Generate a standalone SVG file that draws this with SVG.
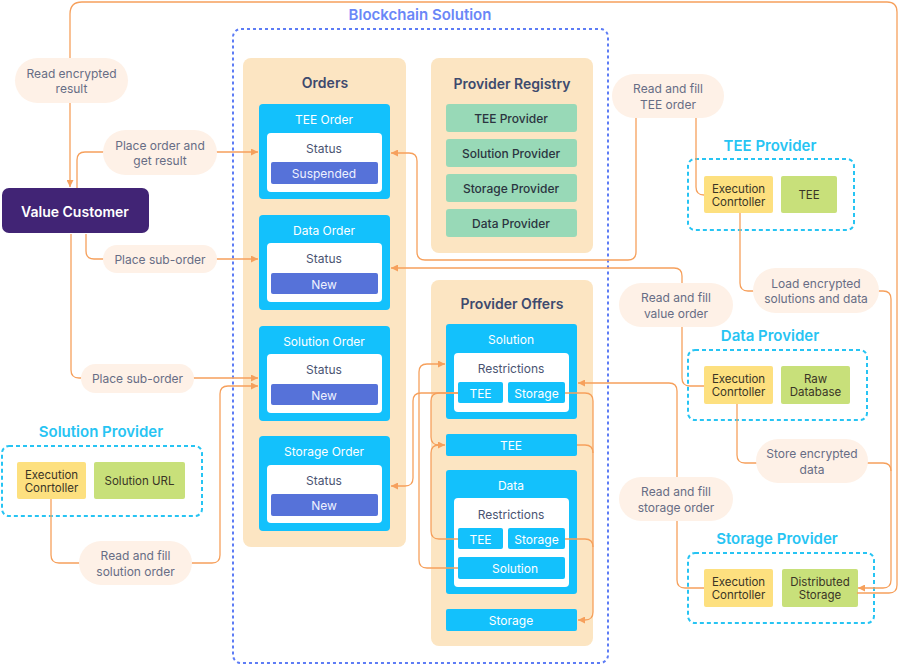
<svg xmlns="http://www.w3.org/2000/svg" width="899" height="665" viewBox="0 0 899 665">
<style>
text{font-family:Inter,"Noto Sans","Liberation Sans",sans-serif;text-anchor:middle;dominant-baseline:central}
.panel{fill:#fce5c2}
.ptitle{font-size:14px;font-weight:600;fill:#3e4a6e}
.obox{fill:#13c1fc}
.otitle{font-size:12px;fill:#ffffff}
.white{fill:#ffffff}
.status{font-size:12px;fill:#4a5472}
.bar{fill:#5672d9}
.bartx{font-size:12px;fill:#eef1ff}
.reg{fill:#98d9b7}
.regtx{font-size:12px;font-weight:500;fill:#2b3440}
.sub{fill:#13c1fc}
.subtx{font-size:12px;fill:#ffffff}
.rtx{font-size:12px;fill:#4a5472}
.ptl{font-size:15px;font-weight:600;fill:#27c4f3}
.pbox{fill:none;stroke:#27c4f3;stroke-width:2;stroke-dasharray:4 3}
.exec{fill:#fde07f}
.res{fill:#c8e07a}
.ntx{font-size:11.5px;fill:#3a3526}
.pill{fill:#fef1e7}
.ltx{font-size:12px;fill:#676d85}
.con{fill:none;stroke:#f6a05c;stroke-width:1.3}
</style>
<defs>
<marker id="arr" viewBox="0 0 8 8" refX="8" refY="4" markerWidth="7" markerHeight="7" markerUnits="userSpaceOnUse" orient="auto">
<path d="M0,0 L8,4 L0,8 z" fill="#f6a05c"/>
</marker>
</defs>

<g id="blockchain">
<rect x="233" y="29" width="375" height="634" rx="8" fill="none" stroke="#5d7cf5" stroke-width="2" stroke-dasharray="3 3"/>
<text x="420" y="14" style="font-size:15px;font-weight:600;fill:#6a87f7">Blockchain Solution</text>
</g>

<g id="orders">
<rect class="panel" x="243" y="58" width="163" height="489" rx="8"/>
<text class="ptitle" x="325" y="82">Orders</text>
</g>
<g id="tee-order">
<rect class="obox" x="259" y="104" width="131" height="95" rx="4"/>
<text class="otitle" x="324" y="119">TEE Order</text>
<rect class="white" x="267" y="133" width="115" height="59" rx="4"/>
<text class="status" x="324" y="148">Status</text>
<rect class="bar" x="271" y="162" width="107" height="22" rx="2"/>
<text class="bartx" x="324" y="173">Suspended</text>
</g>
<g id="data-order">
<rect class="obox" x="259" y="215" width="131" height="95" rx="4"/>
<text class="otitle" x="324" y="230">Data Order</text>
<rect class="white" x="267" y="243" width="115" height="59" rx="4"/>
<text class="status" x="324" y="258">Status</text>
<rect class="bar" x="271" y="273" width="107" height="21" rx="2"/>
<text class="bartx" x="324" y="284">New</text>
</g>
<g id="solution-order">
<rect class="obox" x="259" y="326" width="131" height="95" rx="4"/>
<text class="otitle" x="324" y="341">Solution Order</text>
<rect class="white" x="267" y="354" width="115" height="59" rx="4"/>
<text class="status" x="324" y="369">Status</text>
<rect class="bar" x="271" y="384" width="107" height="21" rx="2"/>
<text class="bartx" x="324" y="395">New</text>
</g>
<g id="storage-order">
<rect class="obox" x="259" y="436" width="131" height="95" rx="4"/>
<text class="otitle" x="324" y="451">Storage Order</text>
<rect class="white" x="267" y="465" width="115" height="58" rx="4"/>
<text class="status" x="324" y="480">Status</text>
<rect class="bar" x="271" y="494" width="107" height="22" rx="2"/>
<text class="bartx" x="324" y="505">New</text>
</g>

<g id="provider-registry">
<rect class="panel" x="431" y="58" width="162" height="195" rx="8"/>
<text class="ptitle" x="512" y="83">Provider Registry</text>
<rect class="reg" x="446" y="104" width="131" height="28" rx="3"/>
<text class="regtx" x="511" y="118">TEE Provider</text>
<rect class="reg" x="446" y="139" width="131" height="28" rx="3"/>
<text class="regtx" x="511" y="153">Solution Provider</text>
<rect class="reg" x="446" y="174" width="131" height="28" rx="3"/>
<text class="regtx" x="511" y="188">Storage Provider</text>
<rect class="reg" x="446" y="209" width="131" height="28" rx="3"/>
<text class="regtx" x="511" y="223">Data Provider</text>
</g>

<g id="provider-offers">
<rect class="panel" x="431" y="280" width="162" height="366" rx="8"/>
<text class="ptitle" x="512" y="303">Provider Offers</text>
</g>
<g id="offer-solution">
<rect class="sub" x="446" y="324" width="131" height="95" rx="3"/>
<text class="subtx" x="511" y="339">Solution</text>
<rect class="white" x="454" y="353" width="115" height="59" rx="4"/>
<text class="rtx" x="511" y="368">Restrictions</text>
<rect class="sub" x="458" y="382" width="45" height="21" rx="2"/>
<text class="subtx" x="480.5" y="393">TEE</text>
<rect class="sub" x="508" y="382" width="57" height="21" rx="2"/>
<text class="subtx" x="536.5" y="393">Storage</text>
</g>
<g id="offer-tee">
<rect class="sub" x="446" y="434" width="131" height="22" rx="2"/>
<text class="subtx" x="511" y="445">TEE</text>
</g>
<g id="offer-data">
<rect class="sub" x="446" y="470" width="131" height="124" rx="3"/>
<text class="subtx" x="511" y="485">Data</text>
<rect class="white" x="454" y="498" width="115" height="89" rx="4"/>
<text class="rtx" x="511" y="514">Restrictions</text>
<rect class="sub" x="458" y="528" width="45" height="21" rx="2"/>
<text class="subtx" x="480.5" y="539">TEE</text>
<rect class="sub" x="508" y="528" width="57" height="21" rx="2"/>
<text class="subtx" x="536.5" y="539">Storage</text>
<rect class="sub" x="458" y="557" width="107" height="22" rx="2"/>
<text class="subtx" x="515" y="568">Solution</text>
</g>
<g id="offer-storage">
<rect class="sub" x="446" y="609" width="131" height="22" rx="2"/>
<text class="subtx" x="511" y="620">Storage</text>
</g>

<g id="value-customer">
<rect x="2" y="188" width="147" height="45" rx="7" fill="#412475"/>
<text x="75" y="211" style="font-size:14px;font-weight:600;fill:#ffffff">Value Customer</text>
</g>

<g id="solution-provider">
<text class="ptl" x="101" y="431">Solution Provider</text>
<rect class="pbox" x="2" y="446" width="200" height="70" rx="7"/>
<rect class="exec" x="17" y="462" width="69" height="37" rx="2"/>
<text class="ntx" x="51.5" y="474.5">Execution</text>
<text class="ntx" x="51.5" y="487.5">Conrtoller</text>
<rect class="res" x="94" y="462" width="91" height="37" rx="2"/>
<text class="ntx" x="139.5" y="481">Solution URL</text>
</g>

<g id="tee-provider">
<text class="ptl" x="770" y="145">TEE Provider</text>
<rect class="pbox" x="688" y="159" width="166" height="71" rx="7"/>
<rect class="exec" x="704" y="176" width="69" height="37" rx="2"/>
<text class="ntx" x="738.5" y="188.5">Execution</text>
<text class="ntx" x="738.5" y="201.5">Conrtoller</text>
<rect class="res" x="781" y="176" width="56" height="37" rx="2"/>
<text class="ntx" x="809" y="195">TEE</text>
</g>

<g id="data-provider">
<text class="ptl" x="770" y="335">Data Provider</text>
<rect class="pbox" x="688" y="350" width="179" height="70" rx="7"/>
<rect class="exec" x="704" y="366" width="69" height="38" rx="2"/>
<text class="ntx" x="738.5" y="379">Execution</text>
<text class="ntx" x="738.5" y="392">Conrtoller</text>
<rect class="res" x="781" y="366" width="69" height="38" rx="2"/>
<text class="ntx" x="815.5" y="379">Raw</text>
<text class="ntx" x="815.5" y="392">Database</text>
</g>

<g id="storage-provider">
<text class="ptl" x="777" y="538">Storage Provider</text>
<rect class="pbox" x="688" y="553" width="186" height="70" rx="7"/>
<rect class="exec" x="704" y="569" width="69" height="38" rx="2"/>
<text class="ntx" x="738.5" y="582">Execution</text>
<text class="ntx" x="738.5" y="595">Conrtoller</text>
<rect class="res" x="782" y="569" width="76" height="38" rx="2"/>
<text class="ntx" x="820" y="582">Distributed</text>
<text class="ntx" x="820" y="595">Storage</text>
</g>

<g id="connectors">
<path class="con" marker-end="url(#arr)" d="M857,593 H889 Q897,593 897,585 V12 Q897,2 887,2 H82 Q70,2 70,14 V187"/>
<path class="con" marker-end="url(#arr)" d="M77,188 V160 Q77,152 85,152 H258"/>
<path class="con" marker-end="url(#arr)" d="M86,234 V251 Q86,259 94,259 H258"/>
<path class="con" marker-end="url(#arr)" d="M71,234 V370 Q71,378 79,378 H258"/>
<path class="con" marker-end="url(#arr)" d="M51,499 V555 Q51,563 59,563 H212 Q220,563 220,555 V394 Q220,386 228,386 H258"/>
<path class="con" marker-end="url(#arr)" d="M704,195 Q696,195 696,187 V100 M636,100 V252 Q636,260 628,260 H425 Q417,260 417,252 V161 Q417,153 409,153 H391"/>
<path class="con" marker-end="url(#arr)" d="M704,386 H690 Q682,386 682,378 V310 M682,300 V276 Q682,268 674,268 H391"/>
<path class="con" marker-end="url(#arr)" d="M704,588 H685 Q677,588 677,580 V500 M677,495 V391 Q677,383 669,383 H578"/>
<path class="con" marker-end="url(#arr)" d="M740,213 V283 Q740,291 748,291 H760 M870,291 H883 Q891,291 891,299 V580 Q891,588 883,588 H858"/>
<path class="con" d="M737,404 V455 Q737,463 745,463 H765 M860,463 H883 Q891,463 891,471"/>
<path class="con" marker-end="url(#arr)" d="M458,568 H427 Q419,568 419,560 V372 Q419,364 427,364 H445"/>
<path class="con" marker-end="url(#arr)" d="M458,393 H421 Q413,393 413,401 V478 Q413,486 405,486 H391"/>
<path class="con" marker-end="url(#arr)" d="M458,393 H439 Q431,393 431,401 V437 Q431,445 439,445 H445"/>
<path class="con" d="M458,539 H439 Q431,539 431,531 V453 Q431,445 439,445"/>
<path class="con" marker-end="url(#arr)" d="M565,393 H585 Q593,393 593,401 V612 Q593,620 585,620 H578"/>
<path class="con" d="M577,445 H585 Q593,445 593,453"/>
<path class="con" d="M565,539 H585 Q593,539 593,547"/>
</g>

<g id="labels">
<rect class="pill" x="15" y="58" width="113" height="45" rx="22.5"/>
<text class="ltx" x="71.5" y="73">Read encrypted</text>
<text class="ltx" x="71.5" y="88">result</text>
<rect class="pill" x="103" y="130" width="114" height="45" rx="22.5"/>
<text class="ltx" x="160" y="145">Place order and</text>
<text class="ltx" x="160" y="160">get result</text>
<rect class="pill" x="103" y="245" width="114" height="28" rx="14"/>
<text class="ltx" x="160" y="259">Place sub-order</text>
<rect class="pill" x="81" y="364" width="113" height="29" rx="14.5"/>
<text class="ltx" x="137.5" y="378.5">Place sub-order</text>
<rect class="pill" x="79" y="541" width="113" height="44" rx="22"/>
<text class="ltx" x="135.5" y="555">Read and fill</text>
<text class="ltx" x="135.5" y="571">solution order</text>
<rect class="pill" x="612" y="74" width="112" height="44" rx="22"/>
<text class="ltx" x="668" y="88">Read and fill</text>
<text class="ltx" x="668" y="104">TEE order</text>
<rect class="pill" x="619" y="283" width="114" height="44" rx="22"/>
<text class="ltx" x="676" y="297">Read and fill</text>
<text class="ltx" x="676" y="313">value order</text>
<rect class="pill" x="753" y="268" width="126" height="45" rx="22.5"/>
<text class="ltx" x="816" y="283">Load encrypted</text>
<text class="ltx" x="816" y="298">solutions and data</text>
<rect class="pill" x="756" y="439" width="112" height="44" rx="22"/>
<text class="ltx" x="812" y="453">Store encrypted</text>
<text class="ltx" x="812" y="469">data</text>
<rect class="pill" x="619" y="477" width="114" height="44" rx="22"/>
<text class="ltx" x="676" y="491">Read and fill</text>
<text class="ltx" x="676" y="507">storage order</text>
</g>
</svg>
